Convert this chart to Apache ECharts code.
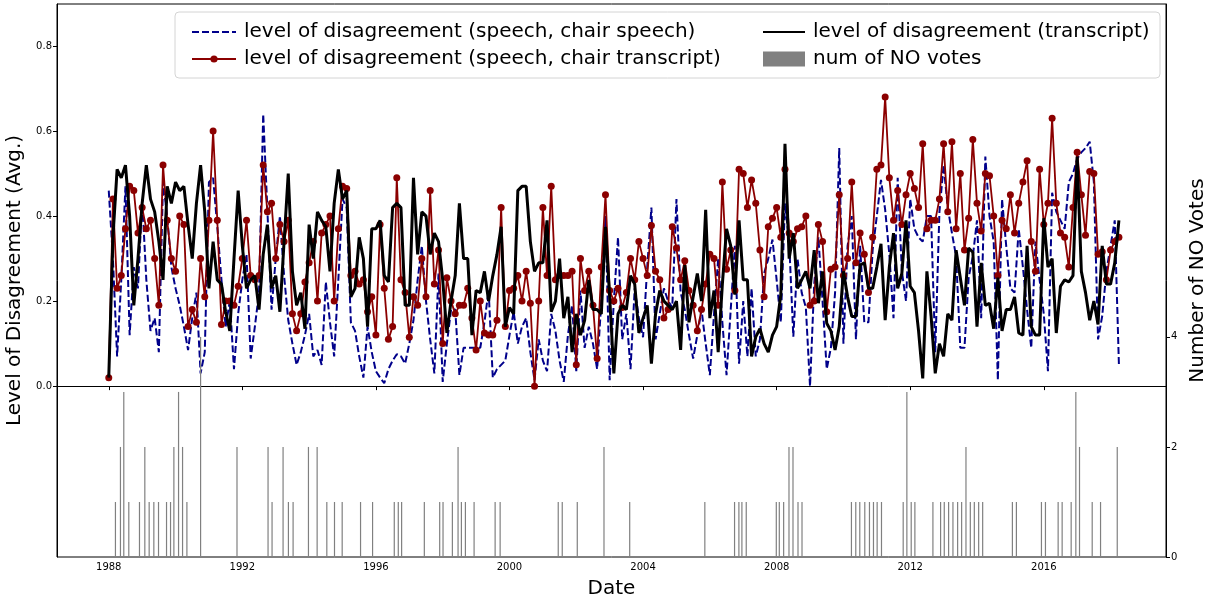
<!DOCTYPE html>
<html>
<head>
<meta charset="utf-8">
<script src="https://cdn.jsdelivr.net/npm/echarts@6/dist/echarts.min.js"></script>
<style>
  html, body { margin: 0; padding: 0; background: #fff; }
  #chart { width: 1211px; height: 600px; }
</style>
</head>
<body>
<div id="chart"></div>
<script>
// meetings: 8 per year starting at 1988
const firstYear = 1988
const meetingsPerYear = 8

// level of disagreement (speech, chair speech)
const speechChairSpeech = [
  0.46, 0.30, 0.07, 0.25, 0.47, 0.12, 0.28, 0.23,
  0.44, 0.25, 0.13, 0.16, 0.08, 0.48, 0.40, 0.28,
  0.23, 0.19, 0.14, 0.085, 0.16, 0.22, 0.03, 0.08,
  0.48, 0.49, 0.375, 0.25, 0.14, 0.20, 0.04, 0.17,
  0.25, 0.31, 0.065, 0.14, 0.22, 0.64, 0.415, 0.18,
  0.30, 0.40, 0.26, 0.155, 0.10, 0.05, 0.08, 0.12,
  0.17, 0.07, 0.085, 0.05, 0.245, 0.15, 0.07, 0.25,
  0.44, 0.42, 0.15, 0.13, 0.07, 0.02, 0.14, 0.08,
  0.035, 0.02, 0.007, 0.04, 0.06, 0.075, 0.07, 0.053,
  0.10, 0.155, 0.25, 0.33, 0.20, 0.11, 0.03, 0.265,
  0.01, 0.10, 0.18, 0.18, 0.026, 0.09, 0.09, 0.09,
  0.09, 0.09, 0.15, 0.226, 0.02, 0.04, 0.05, 0.06,
  0.12, 0.175, 0.10, 0.14, 0.16, 0.08, 0.014, 0.11,
  0.06, 0.035, 0.17, 0.13, 0.06, 0.01, 0.12, 0.19,
  0.035, 0.225, 0.09, 0.14, 0.10, 0.04, 0.20, 0.40,
  0.014, 0.20, 0.35, 0.11, 0.17, 0.04, 0.23, 0.16,
  0.115, 0.28, 0.42, 0.11, 0.17, 0.23, 0.20, 0.185,
  0.44, 0.22, 0.18, 0.12, 0.065, 0.12, 0.18, 0.10,
  0.026, 0.17, 0.30, 0.15, 0.026, 0.18, 0.33, 0.053,
  0.20, 0.07, 0.23, 0.07, 0.11, 0.265, 0.30, 0.345,
  0.25, 0.15, 0.43, 0.34, 0.116, 0.30, 0.22, 0.185,
  0.0, 0.24, 0.35, 0.20, 0.04, 0.09, 0.22, 0.56,
  0.10, 0.33, 0.40, 0.11, 0.33, 0.15, 0.15, 0.32,
  0.40, 0.485, 0.415, 0.31, 0.16, 0.49, 0.27, 0.20,
  0.44, 0.37, 0.35, 0.34, 0.40, 0.40, 0.08, 0.41,
  0.52, 0.42, 0.36, 0.305, 0.09, 0.09, 0.255, 0.305,
  0.39, 0.16, 0.54, 0.40, 0.34, 0.014, 0.44, 0.33,
  0.23, 0.22, 0.37, 0.28, 0.18, 0.09, 0.34, 0.25,
  0.17, 0.035, 0.455, 0.41, 0.39, 0.37, 0.48, 0.50,
  0.535, 0.55, 0.56, 0.575, 0.48, 0.11, 0.165, 0.27,
  0.33, 0.39, 0.05
]

// level of disagreement (speech, chair transcript)
const speechChairTranscript = [
  0.02, 0.44, 0.23, 0.26, 0.37, 0.47, 0.46, 0.36,
  0.42, 0.37, 0.39, 0.30, 0.19, 0.52, 0.39, 0.30,
  0.27, 0.40, 0.38, 0.14, 0.18, 0.15, 0.30, 0.21,
  0.39, 0.60, 0.39, 0.145, 0.20, 0.20, 0.19, 0.235,
  0.30, 0.39, 0.26, 0.25, 0.26, 0.52, 0.41, 0.43,
  0.30, 0.38, 0.34, 0.39, 0.17, 0.13, 0.17, 0.245,
  0.29, 0.34, 0.20, 0.36, 0.38, 0.40, 0.20, 0.37,
  0.47, 0.465, 0.26, 0.27, 0.24, 0.25, 0.175, 0.21,
  0.12, 0.38, 0.23, 0.11, 0.14, 0.49, 0.25, 0.22,
  0.115, 0.21, 0.19, 0.30, 0.21, 0.46, 0.24, 0.32,
  0.10, 0.255, 0.20, 0.17, 0.19, 0.19, 0.23, 0.16,
  0.085, 0.20, 0.125, 0.12, 0.12, 0.155, 0.42, 0.14,
  0.225, 0.23, 0.26, 0.20, 0.27, 0.195, 0.0, 0.20,
  0.42, 0.26, 0.47, 0.25, 0.26, 0.26, 0.26, 0.27,
  0.05, 0.30, 0.225, 0.27, 0.19, 0.065, 0.28, 0.45,
  0.225, 0.20, 0.23, 0.185, 0.22, 0.30, 0.25, 0.34,
  0.30, 0.26, 0.378, 0.27, 0.25, 0.16, 0.18, 0.375,
  0.325, 0.25, 0.295, 0.225, 0.19, 0.13, 0.18, 0.24,
  0.31, 0.30, 0.19, 0.48, 0.275, 0.32, 0.225, 0.51,
  0.50, 0.42, 0.485, 0.43, 0.32, 0.21, 0.375, 0.395,
  0.42, 0.35, 0.51, 0.36, 0.34, 0.37, 0.375, 0.40,
  0.19, 0.20, 0.38, 0.34, 0.175, 0.275, 0.28, 0.45,
  0.26, 0.30, 0.48, 0.29, 0.36, 0.31, 0.22, 0.35,
  0.51, 0.52, 0.68, 0.49, 0.39, 0.46, 0.38, 0.45,
  0.50, 0.465, 0.42, 0.57, 0.37, 0.39, 0.39, 0.44,
  0.57, 0.41, 0.575, 0.37, 0.50, 0.32, 0.395, 0.58,
  0.43, 0.365, 0.50, 0.495, 0.40, 0.26, 0.39, 0.37,
  0.45, 0.36, 0.43, 0.48, 0.53, 0.34, 0.27, 0.51,
  0.38, 0.43, 0.63, 0.43, 0.36, 0.35, 0.28, 0.42,
  0.55, 0.45, 0.355, 0.505, 0.50, 0.31, 0.316, 0.25,
  0.32, 0.34, 0.35
]

// level of disagreement (transcript)
const transcript = [
  0.02, 0.35, 0.51, 0.49, 0.52, 0.40, 0.19, 0.30,
  0.43, 0.52, 0.44, 0.41, 0.34, 0.25, 0.47, 0.43,
  0.48, 0.46, 0.47, 0.38, 0.30, 0.43, 0.52, 0.41,
  0.23, 0.34, 0.25, 0.24, 0.175, 0.13, 0.30, 0.46,
  0.33, 0.23, 0.25, 0.26, 0.18, 0.31, 0.38, 0.23,
  0.26, 0.175, 0.34, 0.50, 0.27, 0.19, 0.22, 0.135,
  0.38, 0.30, 0.41, 0.39, 0.375, 0.27, 0.43, 0.51,
  0.44, 0.46, 0.21, 0.23, 0.35, 0.30, 0.14, 0.37,
  0.37, 0.39, 0.26, 0.245, 0.42, 0.43, 0.42, 0.19,
  0.19, 0.49, 0.31, 0.41, 0.40, 0.31, 0.36, 0.34,
  0.25, 0.125, 0.20, 0.26, 0.43, 0.30, 0.30, 0.12,
  0.225, 0.22, 0.27, 0.20, 0.26, 0.31, 0.375, 0.14,
  0.185, 0.17, 0.46, 0.47, 0.47, 0.34, 0.27, 0.29,
  0.29, 0.39, 0.175, 0.20, 0.30, 0.16, 0.21, 0.08,
  0.17, 0.12, 0.155, 0.25, 0.18, 0.18, 0.17, 0.375,
  0.21, 0.03, 0.17, 0.19, 0.18, 0.26, 0.24, 0.125,
  0.16, 0.19, 0.053, 0.17, 0.225, 0.20, 0.19, 0.18,
  0.20, 0.085, 0.285, 0.15, 0.21, 0.265, 0.20, 0.415,
  0.16, 0.225, 0.08, 0.24, 0.37, 0.33, 0.215, 0.39,
  0.25, 0.25, 0.07, 0.116, 0.135, 0.10, 0.08, 0.12,
  0.14, 0.215, 0.57, 0.30, 0.36, 0.23, 0.25, 0.27,
  0.23, 0.32, 0.195, 0.27, 0.148, 0.13, 0.085, 0.14,
  0.27, 0.21, 0.164, 0.164, 0.285, 0.29, 0.23, 0.23,
  0.28, 0.335, 0.155, 0.28, 0.36, 0.23, 0.265, 0.39,
  0.235, 0.22, 0.13, 0.018, 0.27, 0.165, 0.03, 0.10,
  0.07, 0.17, 0.155, 0.32, 0.255, 0.19, 0.325, 0.315,
  0.14, 0.29, 0.19, 0.195, 0.135, 0.255, 0.13, 0.18,
  0.18, 0.21, 0.125, 0.12, 0.33, 0.14, 0.12, 0.12,
  0.395, 0.28, 0.30, 0.125, 0.235, 0.25, 0.245, 0.26,
  0.54, 0.27, 0.22, 0.155, 0.20, 0.145, 0.33, 0.24,
  0.24, 0.29, 0.39
]

// num of NO votes: [date, votes]
const noVotes = [
  [1988.20, 1], [1988.35, 2], [1988.45, 3], [1988.60, 1], [1988.92, 1],
  [1989.08, 2], [1989.21, 1], [1989.35, 1], [1989.49, 1], [1989.73, 1],
  [1989.85, 1], [1989.95, 2], [1990.09, 3], [1990.21, 2], [1990.34, 1],
  [1990.75, 4], [1991.84, 2], [1992.77, 2], [1992.89, 1], [1993.22, 2],
  [1993.38, 1], [1993.52, 1], [1993.98, 2], [1994.24, 2], [1994.53, 1],
  [1994.76, 1], [1994.99, 1], [1995.54, 1], [1995.90, 1], [1996.55, 1],
  [1996.67, 1], [1996.77, 1], [1997.45, 1], [1997.91, 1], [1998.01, 1],
  [1998.29, 1], [1998.46, 2], [1998.56, 1], [1998.68, 1], [1998.94, 1],
  [1999.57, 1], [1999.72, 1], [2001.46, 1], [2001.58, 1], [2002.03, 1],
  [2002.83, 2], [2003.60, 1], [2005.85, 1], [2006.74, 1], [2006.87, 1],
  [2006.96, 1], [2007.09, 1], [2007.99, 1], [2008.08, 1], [2008.21, 1],
  [2008.37, 2], [2008.49, 2], [2008.64, 1], [2008.76, 1], [2010.24, 1],
  [2010.37, 1], [2010.49, 1], [2010.64, 1], [2010.78, 1], [2010.90, 1],
  [2011.01, 1], [2011.14, 1], [2011.79, 1], [2011.90, 3], [2012.03, 1],
  [2012.14, 1], [2012.68, 1], [2012.91, 1], [2013.02, 1], [2013.15, 1],
  [2013.28, 1], [2013.42, 1], [2013.54, 1], [2013.67, 2], [2013.80, 1],
  [2013.92, 1], [2014.05, 1], [2014.17, 1], [2015.06, 1], [2015.18, 1],
  [2015.93, 1], [2016.05, 1], [2016.43, 1], [2016.55, 1], [2016.82, 1],
  [2016.96, 3], [2017.07, 2], [2017.45, 1], [2017.70, 1], [2018.20, 2]
]

const yearTicks = [1988, 1992, 1996, 2000, 2004, 2008, 2012, 2016]
const disagreementTicks = [0, 0.2, 0.4, 0.6, 0.8]
const voteTicks = [0, 2, 4]

const nameSpeech = 'level of disagreement (speech, chair speech)'
const nameSpeechTranscript = 'level of disagreement (speech, chair transcript)'
const nameTranscript = 'level of disagreement (transcript)'
const nameVotes = 'num of NO votes'

const meetingDates = transcript.map((v, i) => firstYear + i / meetingsPerYear)
const pairs = values => values.map((v, i) => [meetingDates[i], v])

const font = 'DejaVu Sans'
const tickLabel = { color: '#000', fontSize: 10, fontFamily: font }
const legendText = { color: '#000', fontSize: 20, fontFamily: font, padding: [0, 0, 0, 3] }
const noSymbol = { opacity: 0 }

const chart = echarts.init(document.getElementById('chart'))
chart.setOption({
  animation: false,
  textStyle: { fontFamily: font },
  grid: {
    left: 57, right: 45, top: 4, bottom: 43, outerBoundsMode: 'none',
    show: true, borderColor: '#000', borderWidth: 1
  },
  graphic: [{
    type: 'rect', z: 0,
    shape: { x: 175, y: 12, width: 985, height: 66, r: 4 },
    style: { fill: 'rgba(255,255,255,0.8)', stroke: '#d4d4d4', lineWidth: 1 }
  }],
  legend: [
    {
      left: 186, top: 17, orient: 'vertical', itemGap: 7, itemWidth: 44, itemHeight: 9,
      data: [{ name: nameSpeech, itemStyle: noSymbol }, nameSpeechTranscript],
      textStyle: legendText
    },
    {
      left: 757, top: 17, orient: 'vertical', itemGap: 7, itemWidth: 42, itemHeight: 15,
      data: [{ name: nameTranscript, itemStyle: noSymbol }, { name: nameVotes, icon: 'rect' }],
      textStyle: legendText
    }
  ],
  xAxis: {
    type: 'value', min: 1986.45, max: 2019.66,
    name: 'Date', nameLocation: 'middle', nameGap: 22,
    nameTextStyle: { color: '#000', fontSize: 20, fontFamily: font },
    axisLine: { lineStyle: { color: '#000' } },
    axisTick: { inside: false, length: 4, lineStyle: { color: '#000' }, customValues: yearTicks },
    axisLabel: Object.assign({ margin: 5, customValues: yearTicks, formatter: v => String(v) }, tickLabel),
    splitLine: { show: false }
  },
  yAxis: [
    {
      type: 'value', position: 'left', min: -0.402, max: 0.899,
      name: 'Level of Disagreement (Avg.)', nameLocation: 'middle', nameRotate: 90, nameGap: 24,
      nameTextStyle: { color: '#000', fontSize: 20, fontFamily: font },
      axisLine: { show: true, lineStyle: { color: '#000' } },
      axisTick: { show: true, length: 4, lineStyle: { color: '#000' }, customValues: disagreementTicks },
      axisLabel: Object.assign({ margin: 5, customValues: disagreementTicks, formatter: v => v.toFixed(1) }, tickLabel),
      splitLine: { show: false }
    },
    {
      type: 'value', position: 'right', min: 0, max: 10.05,
      name: 'Number of NO Votes', nameLocation: 'middle', nameRotate: 90, nameGap: 18,
      nameTextStyle: { color: '#000', fontSize: 20, fontFamily: font },
      axisLine: { show: true, lineStyle: { color: '#000' } },
      axisTick: { show: true, length: 4, lineStyle: { color: '#000' }, customValues: voteTicks },
      axisLabel: Object.assign({ margin: 5, customValues: voteTicks, formatter: v => String(v) }, tickLabel),
      splitLine: { show: false }
    }
  ],
  series: [
    {
      name: nameSpeech, type: 'line', yAxisIndex: 0, z: 2,
      data: pairs(speechChairSpeech), showSymbol: false, symbol: 'none',
      lineStyle: { color: '#00008b', width: 2, type: [7, 3] },
      itemStyle: { color: '#00008b' }
    },
    {
      name: nameSpeechTranscript, type: 'line', yAxisIndex: 0, z: 3,
      data: pairs(speechChairTranscript), symbol: 'circle', symbolSize: 7,
      lineStyle: { color: '#8b0000', width: 1.8 },
      itemStyle: { color: '#8b0000' }
    },
    {
      name: nameTranscript, type: 'line', yAxisIndex: 0, z: 4,
      data: pairs(transcript), showSymbol: false, symbol: 'none',
      lineStyle: { color: '#000', width: 3 },
      itemStyle: { color: '#000' }
    },
    {
      name: nameVotes, type: 'bar', yAxisIndex: 1, z: 5,
      data: noVotes, barWidth: 1.2,
      itemStyle: { color: '#808080' }
    }
  ]
})
</script>
</body>
</html>
